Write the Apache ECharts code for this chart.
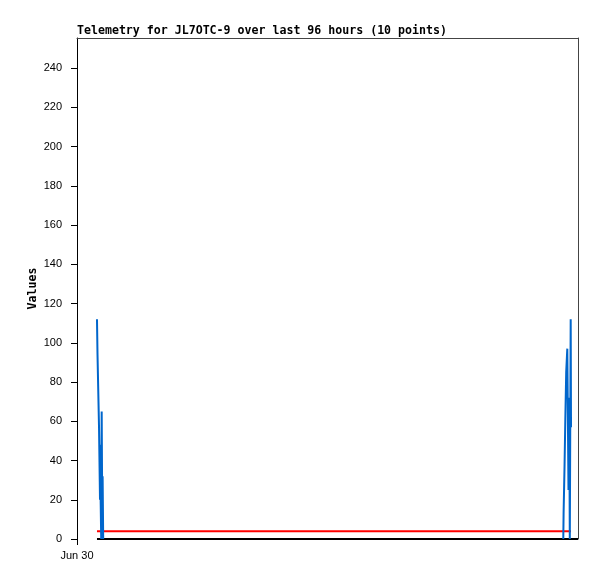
<!DOCTYPE html>
<html>
<head>
<meta charset="utf-8">
<script src="https://cdn.jsdelivr.net/npm/echarts@6/dist/echarts.min.js"></script>
<style>html,body{margin:0;padding:0;background:#fff}#c{width:597px;height:579px}</style>
</head>
<body>
<div id="c"></div>
<script>
// hours since Jun 30 00:00
const blueA_hours = [3.83, 3.93, 4.12, 4.22, 4.31, 4.41, 4.46, 4.54, 4.64, 4.73, 4.83, 4.91, 5.02];
const blueA_values = [112, 94, 94, 57, 57, 20, 48, 18, 0, 65, 16, 32, 0];
const blueB_hours = [93.18, 93.24, 93.42, 93.57, 93.74, 93.95, 94.18, 94.32, 94.43, 94.60, 94.66];
const blueB_values = [0, 13, 37, 61, 85, 97, 25, 72, 0, 112, 57];
const red_hours = [3.83, 94.66];
const red_values = [4, 4];
const black_hours = [3.83, 96];
const black_values = [0, 0];
const yTicks = [0, 20, 40, 60, 80, 100, 120, 140, 160, 180, 200, 220, 240];
const xLabel = 'Jun 30';

const pair = (xs, ys) => xs.map((x, i) => [x, ys[i]]);
const chart = echarts.init(document.getElementById('c'), null, {renderer: 'canvas'});
const lab = {fontFamily: 'Liberation Sans', fontSize: 11, color: '#000'};
chart.setOption({
  animation: false,
  backgroundColor: '#fff',
  title: {
    text: 'Telemetry for JL7OTC-9 over last 96 hours (10 points)',
    left: 72, top: 20,
    textStyle: {fontFamily: 'DejaVu Sans Mono', fontWeight: 'bold', fontSize: 11.6, color: '#000'}
  },
  grid: {left: 77, top: 38, right: 19, bottom: 40, containLabel: false},
  xAxis: [{
    type: 'value', min: 0, max: 96, position: 'bottom',
    axisLine: {show: false},
    axisTick: {show: true, customValues: [0], length: 6, lineStyle: {color: '#000', width: 1}},
    axisLabel: Object.assign({customValues: [0], margin: 11, formatter: v => v === 0 ? xLabel : ''}, lab),
    splitLine: {show: false}
  }, {
    type: 'value', min: 0, max: 96, position: 'top',
    axisLine: {show: true, onZero: false, lineStyle: {color: '#444', width: 1}},
    axisTick: {show: false}, axisLabel: {show: false}, splitLine: {show: false}
  }],
  yAxis: [{
    type: 'value', min: 0, max: 255.3,
    name: 'Values', nameLocation: 'middle', nameGap: 38, nameRotate: 90, nameMoveOverlap: false,
    nameTextStyle: {fontFamily: 'DejaVu Sans Mono', fontWeight: 'bold', fontSize: 11.6, color: '#000'},
    axisLine: {show: true, onZero: false, lineStyle: {color: '#000', width: 1}},
    axisTick: {show: true, customValues: yTicks, length: 6, lineStyle: {color: '#000', width: 1}},
    axisLabel: Object.assign({customValues: yTicks, margin: 15}, lab),
    splitLine: {show: false}
  }, {
    type: 'value', min: 0, max: 255.3, position: 'right',
    axisLine: {show: true, onZero: false, lineStyle: {color: '#444', width: 1}},
    axisTick: {show: false}, axisLabel: {show: false}, splitLine: {show: false}
  }],
  series: [
    {type: 'line', data: pair(black_hours, black_values), showSymbol: false, lineStyle: {color: '#000', width: 2}, z: 2},
    {type: 'line', data: pair(red_hours, red_values), showSymbol: false, lineStyle: {color: '#ff0000', width: 2}, z: 3},
    {type: 'line', data: pair(blueA_hours, blueA_values), showSymbol: false, lineStyle: {color: '#0066cc', width: 2}, z: 4},
    {type: 'line', data: pair(blueB_hours, blueB_values), showSymbol: false, lineStyle: {color: '#0066cc', width: 2}, z: 4}
  ]
});
</script>
</body>
</html>
